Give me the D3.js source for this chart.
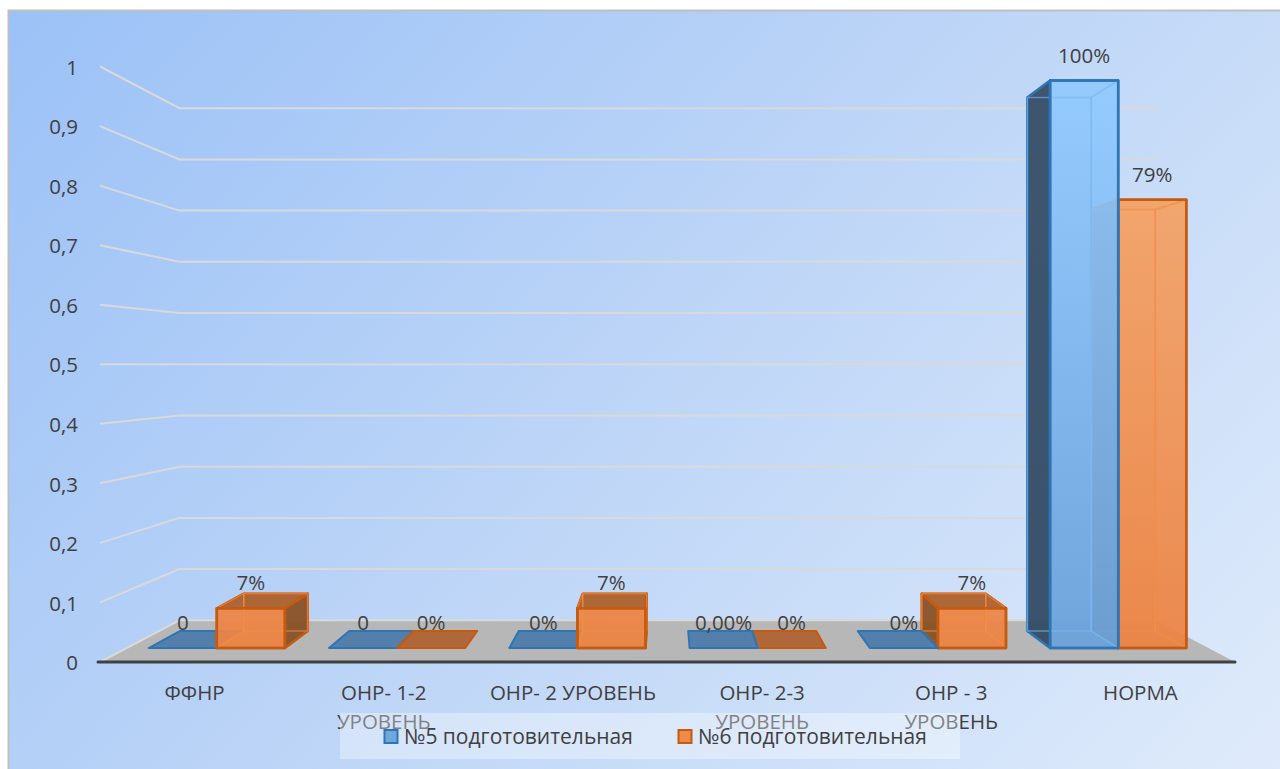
<!DOCTYPE html>
<meta charset="utf-8">
<style>
body { margin: 0; background: white; font-family: 'Open Sans', sans-serif; }
svg { display: block; }
text { fill: #404040; }
</style>
<body>
<script src="https://d3js.org/d3.v7.min.js"></script>
<script>
"use strict";

// data
var categories = ["ФФНР", "ОНР- 1-2 УРОВЕНЬ", "ОНР- 2 УРОВЕНЬ", "ОНР- 2-3 УРОВЕНЬ", "ОНР - 3 УРОВЕНЬ", "НОРМА"];
var seriesNames = ["№5 подготовительная", "№6 подготовительная"];
var values5 = [0, 0, 0, 0, 0, 1];
var values6 = [0.07, 0, 0.07, 0, 0.07, 0.79];
var labels5 = ["0", "0", "0%", "0,00%", "0%", "100%"];
var labels6 = ["7%", "0%", "7%", "0%", "7%", "79%"];
var ticks = [0, 0.1, 0.2, 0.3, 0.4, 0.5, 0.6, 0.7, 0.8, 0.9, 1];
var categoryLines = [["ФФНР"], ["ОНР- 1-2", "УРОВЕНЬ"], ["ОНР- 2 УРОВЕНЬ"], ["ОНР- 2-3", "УРОВЕНЬ"], ["ОНР - 3", "УРОВЕНЬ"], ["НОРМА"]];

var width = 1280, height = 769;

// 3d setup: everything is projected towards one vanishing point
var vx = 667.5, vy = 364.25;
var sFront = 1, sBack = 0.86;     // walls
var sBar0 = 0.953, sBar1 = 0.896; // front and back of the bars

var y = d3.scaleLinear().domain([0, 1]).range([662, 66.5]);
var x0 = d3.scaleBand().domain(categories).range([100, 1235]).paddingInner(0).paddingOuter(0);
var x1 = d3.scaleBand().domain([0, 1]).range([0, x0.bandwidth()]).paddingOuter(0.324).paddingInner(0);

function proj(X, v, s) {
  return [vx + (X - vx) * s, vy + (y(v) - vy) * s];
}
var line = d3.line();
function poly(pts) { return line(pts) + "Z"; }

var svg = d3.select("body").append("svg").attr("width", width).attr("height", height);
var defs = svg.append("defs");

var bg = defs.append("linearGradient").attr("id", "bg")
  .attr("gradientUnits", "userSpaceOnUse")
  .attr("x1", 100).attr("y1", -120).attr("x2", 1180).attr("y2", 880);
bg.append("stop").attr("offset", "0").attr("stop-color", "#9ac1f7");
bg.append("stop").attr("offset", "0.5").attr("stop-color", "#bdd5f7");
bg.append("stop").attr("offset", "1").attr("stop-color", "#dfebfb");

// the gradient runs over the full axis height, so low bars only get the bottom tone
var styles = [
  { top: "#93caff", bottom: "#6aa2da", edge: "#2e75b6", inner: "#7db9f0", dark: "#2b4057", flat: "#3970a6", cap: "#3970a6" },
  { top: "#f5ab70", bottom: "#ec8343", edge: "#c55a11", inner: "#f08f4c", dark: "#7f4a20", flat: "#ae541b", cap: "#a65a26" }
];
styles.forEach(function(st, i) {
  var g = defs.append("linearGradient").attr("id", "front" + i)
    .attr("gradientUnits", "userSpaceOnUse")
    .attr("x1", 0).attr("y1", 80).attr("x2", 0).attr("y2", 648);
  g.append("stop").attr("offset", "0").attr("stop-color", st.top);
  g.append("stop").attr("offset", "1").attr("stop-color", st.bottom);
});

// background + frame
svg.append("rect").attr("x", 8).attr("y", 10).attr("width", width - 8).attr("height", height - 10)
  .attr("fill", "url(#bg)");
svg.append("path").attr("d", "M8.5,769V10.5H1280").attr("fill", "none")
  .attr("stroke", "#bfbfbf").attr("stroke-width", 2);

// floor
var L = x0.range()[0], R = x0.range()[1];
svg.append("path")
  .attr("d", poly([proj(L, 0, sFront), proj(L, 0, sBack), proj(R, 0, sBack), proj(R, 0, sFront)]))
  .attr("fill", "#b7b7b7");

// gridlines on back and left walls
svg.append("g").selectAll("path").data(ticks).enter().append("path")
  .attr("d", function(d) {
    return line([proj(L, d, sFront), proj(L, d, sBack), proj(R, d, sBack)]);
  })
  .attr("fill", "none")
  .attr("stroke", "#d9d9d9")
  .attr("stroke-width", 2);

// axis line in front of the floor
svg.append("line")
  .attr("x1", 98).attr("x2", 1235).attr("y1", y(0)).attr("y2", y(0))
  .attr("stroke", "#404040").attr("stroke-width", 3).attr("stroke-linecap", "round");

// tick labels
svg.append("g").selectAll("text").data(ticks).enter().append("text")
  .attr("x", 78)
  .attr("y", function(d) { return y(d) + 1; })
  .attr("dy", "0.35em")
  .attr("text-anchor", "end")
  .style("font-size", "20.5px")
  .text(function(d) { return String(d).replace(".", ","); });

// bars
var boxes = [];
categories.forEach(function(c, i) {
  var pair = [values5[i], values6[i]].map(function(v, j) {
    var a = x0(c) + x1(j);
    return { v: v, a: a, b: a + x1.bandwidth(), j: j };
  });
  // the box furthest from the vanishing point goes first
  pair.sort(function(p, q) {
    return Math.abs((q.a + q.b) / 2 - vx) < Math.abs((p.a + p.b) / 2 - vx) ? -1 : 1;
  });
  boxes = boxes.concat(pair);
});

var barG = svg.append("g").attr("stroke-linejoin", "round");

function face(g, pts, fill, opacity, stroke, sw) {
  g.append("path").attr("d", poly(pts))
    .attr("fill", fill).attr("fill-opacity", opacity)
    .attr("stroke", stroke).attr("stroke-width", sw);
}

boxes.forEach(function(d) {
  var st = styles[d.j];
  var g = barG.append("g");
  var v = d.v, a = d.a, b = d.b;
  var front = "url(#front" + d.j + ")";
  if (v === 0) {
    face(g, [proj(a, 0, sBar0), proj(a, 0, sBar1), proj(b, 0, sBar1), proj(b, 0, sBar0)], st.flat, 0.8, st.edge, 2);
    return;
  }
  var leftSeen = a > vx;
  var topSeen = proj(a, v, sBar0)[1] > vy;
  var leftFace = [proj(a, 0, sBar0), proj(a, 0, sBar1), proj(a, v, sBar1), proj(a, v, sBar0)];
  var rightFace = [proj(b, 0, sBar0), proj(b, 0, sBar1), proj(b, v, sBar1), proj(b, v, sBar0)];
  var topFace = [proj(a, v, sBar0), proj(a, v, sBar1), proj(b, v, sBar1), proj(b, v, sBar0)];
  var bottomFace = [proj(a, 0, sBar0), proj(a, 0, sBar1), proj(b, 0, sBar1), proj(b, 0, sBar0)];
  var backFace = [proj(a, 0, sBar1), proj(a, v, sBar1), proj(b, v, sBar1), proj(b, 0, sBar1)];
  var frontFace = [proj(a, 0, sBar0), proj(a, v, sBar0), proj(b, v, sBar0), proj(b, 0, sBar0)];

  // hidden faces first, seen through the front
  face(g, backFace, front, 0.55, st.inner, 2);
  face(g, bottomFace, front, 0.35, st.inner, 2);
  face(g, leftSeen ? rightFace : leftFace, front, 0.35, st.inner, 2);
  if (!topSeen) face(g, topFace, front, 0.5, st.inner, 2);

  // faces turned to the viewer
  face(g, leftSeen ? leftFace : rightFace, st.dark, 0.85, st.edge, 2.5);
  if (topSeen) face(g, topFace, st.cap, 0.85, st.edge, 2.5);
  face(g, frontFace, front, 0.9, st.edge, 2.5);
  // inner edges stay visible through the front
  var hiddenX = leftSeen ? b : a;
  g.append("path").attr("d", line([proj(hiddenX, 0, sBar0), proj(hiddenX, 0, sBar1), proj(hiddenX, v, sBar1), proj(hiddenX, v, sBar0)]))
    .attr("fill", "none").attr("stroke", st.inner).attr("stroke-width", 1.5).attr("stroke-opacity", 0.6);
  g.append("path").attr("d", poly(backFace))
    .attr("fill", "none").attr("stroke", st.inner).attr("stroke-width", 1.5).attr("stroke-opacity", 0.6);
  face(g, frontFace, "none", 0, st.edge, 2.5);
});

// data labels
var labelData = [];
categories.forEach(function(c, i) {
  [[values5[i], labels5[i]], [values6[i], labels6[i]]].forEach(function(p, j) {
    labelData.push({ X: x0(c) + x1(j) + x1.bandwidth() / 2, v: p[0], t: p[1] });
  });
});
svg.append("g").selectAll("text").data(labelData).enter().append("text")
  .attr("x", function(d) { return proj(d.X, d.v, sBar0)[0]; })
  .attr("y", function(d) { return proj(d.X, d.v, sBar0)[1] - 25; })
  .attr("dy", "0.35em")
  .attr("text-anchor", "middle")
  .style("font-size", "20.5px")
  .text(function(d) { return d.t; });

// category labels
var cat = svg.append("g").selectAll("text").data(categories).enter().append("text")
  .attr("text-anchor", "middle")
  .style("font-size", "20.5px");
cat.each(function(d, i) {
  d3.select(this).selectAll("tspan").data(categoryLines[i]).enter().append("tspan")
    .attr("x", x0(d) + x0.bandwidth() / 2)
    .attr("y", function(t, k) { return 700 + k * 29; })
    .text(function(t) { return t; });
});

// legend sits on top of the second label lines
svg.append("rect").attr("x", 340).attr("y", 713).attr("width", 620).attr("height", 46)
  .attr("fill", "white").attr("fill-opacity", 0.35);
var legendX = [384, 678];
var legendFill = ["#6fa8dc", "#ee8a4a"];
var lg = svg.append("g").selectAll("g").data(seriesNames).enter().append("g")
  .attr("transform", function(d, i) { return "translate(" + legendX[i] + ",737)"; });
lg.append("rect").attr("x", 0.5).attr("y", -7).attr("width", 13).attr("height", 13)
  .attr("fill", function(d, i) { return legendFill[i]; })
  .attr("stroke", function(d, i) { return styles[i].edge; })
  .attr("stroke-width", 2);
lg.append("text").attr("x", 20).attr("y", 0).attr("dy", "0.35em")
  .style("font-size", "21px")
  .text(function(d) { return d; });
</script>
</body>
